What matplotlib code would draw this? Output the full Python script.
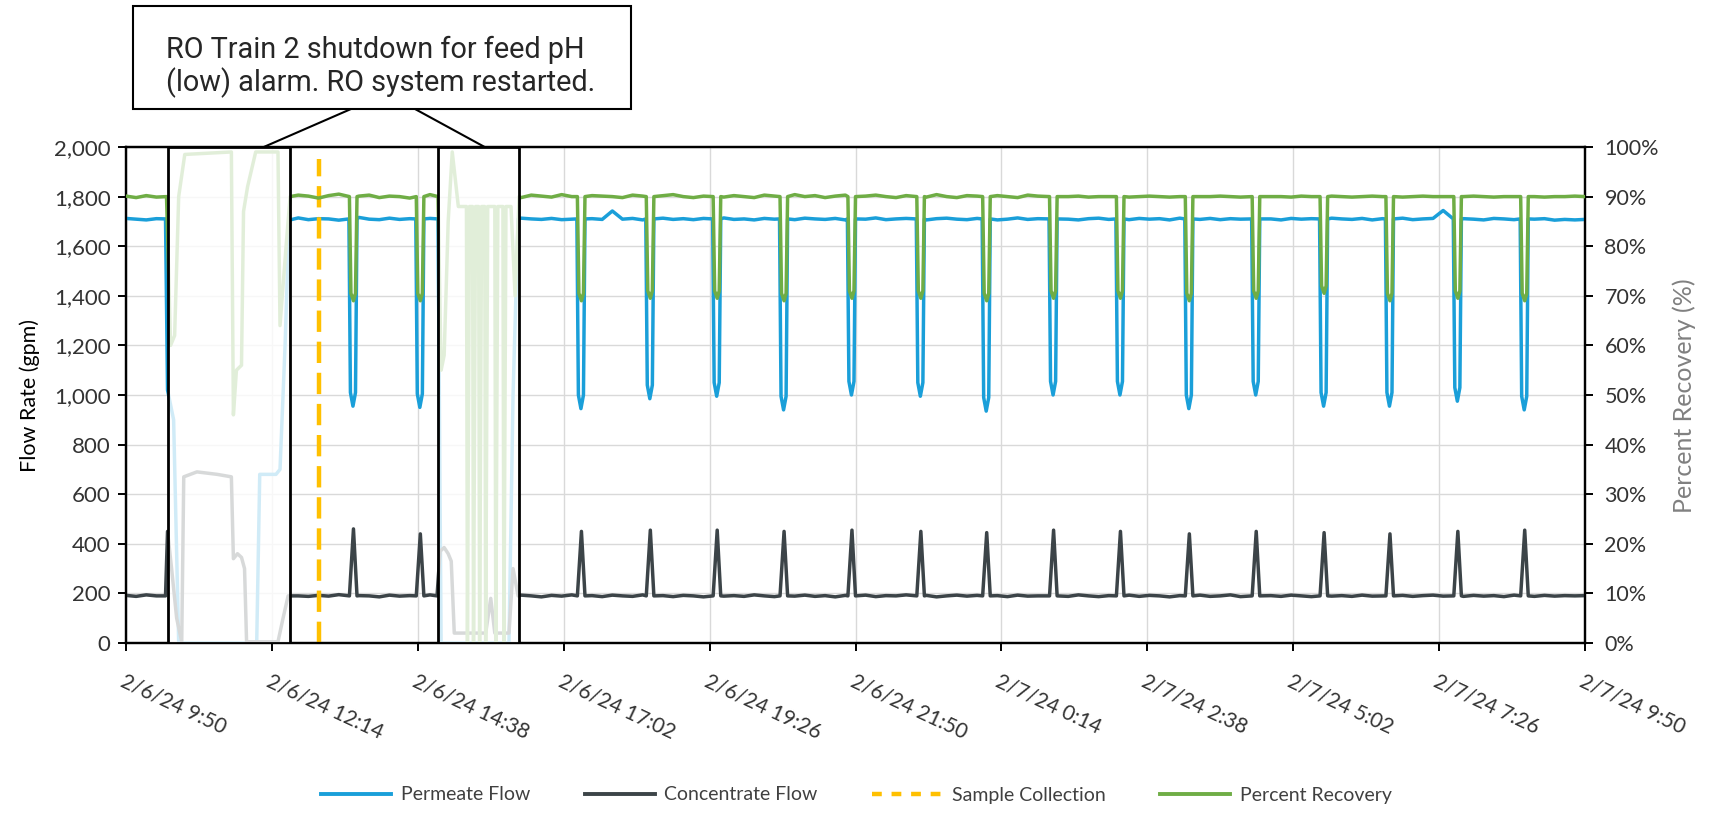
import matplotlib
matplotlib.use("Agg")
import matplotlib.pyplot as plt
from matplotlib.lines import Line2D
from matplotlib.patches import Rectangle

# ---------------- data (x in minutes after 2/6/24 9:50) ----------------
tick_minutes = [0, 144, 288, 432, 576, 720, 864, 1008, 1152, 1296, 1440]
tick_labels = ["2/6/24 9:50", "2/6/24 12:14", "2/6/24 14:38", "2/6/24 17:02",
               "2/6/24 19:26", "2/6/24 21:50", "2/7/24 0:14", "2/7/24 2:38",
               "2/7/24 5:02", "2/7/24 7:26", "2/7/24 9:50"]
flow_ticks = [0, 200, 400, 600, 800, 1000, 1200, 1400, 1600, 1800, 2000]
pct_ticks = [0, 10, 20, 30, 40, 50, 60, 70, 80, 90, 100]

sample_minute = 190                       # sample collection (~13:00)
shutdown_windows = [(41, 162), (308, 388)]

# periodic flush dips
dip_minutes = [224, 290, 449, 517, 583, 649, 716, 784, 849, 915, 981, 1049,
               1115, 1182, 1247, 1314, 1380]
perm_dip_low = [955, 950, 945, 985, 995, 940, 1000, 995, 935, 1000, 1000, 945,
                1000, 955, 955, 975, 940]
conc_dip_peak = [460, 440, 450, 455, 455, 450, 455, 450, 445, 455, 450, 440,
                 450, 445, 440, 450, 455]
rec_dip_low = [69, 69, 69, 69.5, 69.5, 69, 69.5, 69.5, 69, 69.5, 69.5, 69,
               69.5, 70.5, 69, 69.5, 69]

# baseline readings every 10 minutes
base_step = 10
perm_base = [1712, 1709, 1706, 1711, 1714, 1708, 1710, 1712, 1707, 1709, 1713, 1710,
             1708, 1711, 1706, 1712, 1709, 1714, 1707, 1711, 1710, 1705, 1712, 1716,
             1709, 1707, 1713, 1708, 1711, 1706, 1712, 1709, 1715, 1708, 1710, 1707,
             1711, 1709, 1706, 1713, 1710, 1708, 1712, 1707, 1709, 1714, 1711, 1708,
             1742, 1709, 1712, 1706, 1710, 1713, 1708, 1711, 1707, 1712, 1709, 1714,
             1708, 1710, 1706, 1712, 1709, 1711, 1707, 1713, 1710, 1708, 1712, 1706,
             1711, 1709, 1714, 1707, 1710, 1712, 1708, 1706, 1711, 1713, 1709, 1707,
             1712, 1710, 1706, 1709, 1714, 1708, 1711, 1707, 1712, 1709, 1706, 1711,
             1713, 1708, 1710, 1707, 1712, 1709, 1711, 1706, 1713, 1710, 1708, 1712,
             1707, 1711, 1709, 1714, 1708, 1710, 1706, 1712, 1709, 1711, 1707, 1713,
             1710, 1708, 1712, 1706, 1711, 1709, 1713, 1707, 1710, 1712, 1744, 1708,
             1711, 1709, 1706, 1712, 1710, 1707, 1713, 1709, 1711, 1705, 1708, 1706,
             1708]
conc_base = [192, 188, 194, 190, 187, 193, 189, 191, 186, 192, 190, 188,
             193, 189, 191, 187, 194, 190, 188, 192, 189, 195, 187, 191,
             190, 186, 193, 189, 191, 188, 194, 190, 187, 192, 189, 193,
             188, 191, 187, 193, 190, 186, 192, 189, 194, 188, 191, 187,
             193, 190, 188, 194, 189, 191, 187, 192, 190, 186, 193, 189,
             191, 188, 194, 190, 187, 192, 189, 193, 188, 191, 186, 192,
             189, 193, 187, 191, 190, 194, 188, 192, 186, 190, 193, 189,
             192, 188, 191, 187, 193, 189, 190, 186, 192, 188, 194, 190,
             187, 191, 189, 193, 188, 192, 190, 186, 191, 189, 193, 188,
             190, 194, 187, 192, 189, 191, 188, 193, 190, 187, 192, 189,
             191, 188, 193, 189, 190, 186, 192, 188, 191, 193, 189, 190,
             188, 192, 189, 191, 187, 193, 190, 188, 192, 189, 191, 190,
             191]
rec_base = [90.1, 89.8, 90.2, 89.9, 90.0, 90.3, 89.7, 90.1, 89.9, 90.2, 90.0, 89.8,
            90.2, 89.9, 90.4, 90.0, 89.8, 90.3, 90.1, 89.7, 90.2, 90.5, 89.9, 90.1,
            90.3, 89.8, 90.1, 90.0, 89.7, 90.2, 90.4, 89.9, 90.1, 89.8, 90.3, 90.0,
            89.9, 90.2, 90.0, 89.8, 90.3, 90.1, 89.9, 90.4, 90.0, 89.8, 90.2, 90.1,
            90.0, 89.8, 90.3, 90.1, 89.9, 90.2, 90.4, 90.0, 89.8, 90.1, 90.3, 89.9,
            90.2, 90.0, 89.8, 90.3, 90.1, 89.9, 90.4, 90.0, 90.2, 89.8, 90.1, 90.3,
            89.9, 90.1, 90.3, 90.0, 89.8, 90.2, 90.1, 89.9, 90.4, 90.0, 89.8, 90.2,
            90.1, 89.9, 90.2, 90.0, 89.8, 90.3, 90.1, 89.9, 90.2, 90.0, 90.1, 89.9,
            90.0, 90.0, 90.1, 89.9, 90.0, 90.1, 90.0, 89.9, 90.0, 90.1, 90.0, 90.0,
            90.1, 90.0, 89.9, 90.0, 90.1, 90.0, 90.0, 89.9, 90.1, 90.0, 90.0, 90.1,
            90.0, 89.9, 90.0, 90.1, 90.0, 90.0, 89.9, 90.0, 90.1, 90.0, 90.0, 89.9,
            90.0, 90.1, 90.0, 89.9, 90.0, 90.0, 90.1, 90.0, 89.9, 90.0, 90.0, 90.1,
            90.0]

# readings during the two shutdown periods (shown faded)
perm_off1_min = [39, 41, 47, 52, 129, 132, 148, 152, 157, 161]
perm_off1_val = [1710, 1020, 900, 0, 0, 680, 680, 700, 1200, 1705]
perm_off2_min = [308, 311, 378, 382, 387]
perm_off2_val = [1710, 0, 0, 1000, 1710]
conc_off1_min = [39, 41, 45, 50, 55, 57, 70, 90, 104, 106, 110, 114, 117, 119, 150, 155, 160]
conc_off1_val = [190, 450, 300, 100, 5, 670, 690, 680, 670, 340, 360, 345, 300, 5, 5, 100, 190]
conc_off2_min = [307, 310, 314, 318, 321, 324, 355, 360, 364, 378, 382, 387]
conc_off2_val = [190, 370, 385, 360, 330, 40, 40, 180, 40, 40, 300, 190]
rec_off1_min = [40, 44, 48, 52, 58, 104, 106, 109, 114, 116, 120, 128, 150, 152, 158, 162]
rec_off1_val = [90, 60, 62, 90, 98.5, 99, 46, 55, 56, 87, 92, 99, 99, 64, 80, 90]
rec_off2_min = [308, 311, 314, 318, 322, 328, 336, 337, 339, 342, 343, 345, 348, 349,
                351, 354, 355, 357, 364, 365, 367, 372, 373, 375, 380, 384, 388]
rec_off2_val = [90, 55, 58, 85, 99, 88, 88, 0, 88, 88, 0, 88, 88, 0,
                88, 88, 0, 88, 88, 0, 88, 88, 0, 88, 88, 70, 90]

# ---------------- build series ----------------
def build(base, dip_offsets, dip_values, offs):
    ranges = [(min(m), max(m)) for m, _ in offs]
    pts = []
    for i, v in enumerate(base):
        m = i * base_step
        if any(a <= m <= b for a, b in ranges):
            continue
        if any(abs(m - d) <= 5 for d in dip_minutes):
            continue
        pts.append((m, v))
    for d, vals in zip(dip_minutes, dip_values):
        for o, v in zip(dip_offsets, vals):
            pts.append((d + o, v))
    for ms, vs in offs:
        pts.extend(zip(ms, vs))
    pts.sort(key=lambda p: p[0])
    return [p[0] for p in pts], [p[1] for p in pts]

perm_x, perm_y = build(perm_base, [-4, -2.5, 0, 2.5, 4],
                       [[1710, lo + 55, lo, lo + 55, 1710] for lo in perm_dip_low],
                       [(perm_off1_min, perm_off1_val), (perm_off2_min, perm_off2_val)])
conc_x, conc_y = build(conc_base, [-3.5, 0.5, 4],
                       [[190, pk, 190] for pk in conc_dip_peak],
                       [(conc_off1_min, conc_off1_val), (conc_off2_min, conc_off2_val)])
rec_x, rec_y = build(rec_base, [-3.5, -2, 0.5, 2.5, 4],
                     [[90, lo + 1.5, lo, lo + 1.5, 90] for lo in rec_dip_low],
                     [(rec_off1_min, rec_off1_val), (rec_off2_min, rec_off2_val)])

# ---------------- figure ----------------
W, H = 1713, 817
fig = plt.figure(figsize=(W / 100, H / 100), dpi=100)
FONT = ["Lato", "DejaVu Sans"]
TXT = "#333333"

ax = fig.add_axes([126 / W, 1 - 643 / H, (1585 - 126) / W, (643 - 147) / H])
ax2 = ax.twinx()

C_PERM, C_CONC, C_SAMP, C_REC = "#1a9fd9", "#3c4448", "#ffc000", "#6fad45"

ax.plot(perm_x, perm_y, color=C_PERM, lw=2.5, zorder=3, solid_joinstyle="round")
ax.plot(conc_x, conc_y, color=C_CONC, lw=2.5, zorder=3, solid_joinstyle="round")
ax.axvline(sample_minute, ymin=0, ymax=0.975, color=C_SAMP, lw=3.2,
           dashes=(4.8, 2.2), zorder=4)
ax2.plot(rec_x, rec_y, color=C_REC, lw=2.5, zorder=3, solid_joinstyle="round")

for a, b in shutdown_windows:
    ax2.add_patch(Rectangle((a, 0), b - a, 100, facecolor=(1, 1, 1, 0.8),
                            edgecolor="black", lw=2, zorder=6))

ax.set_xlim(0, 1440)
ax.set_ylim(0, 2000)
ax2.set_ylim(0, 100)
ax.set_xticks(tick_minutes)
ax.set_xticklabels(tick_labels, rotation=-25, ha="left", va="top",
                   rotation_mode="anchor", fontsize=15, color=TXT, family=FONT)
ax.set_yticks(flow_ticks)
ax.set_yticklabels([f"{v:,}" for v in flow_ticks], fontsize=16, color=TXT, family=FONT)
ax2.set_yticks(pct_ticks)
ax2.set_yticklabels([f"{v}%" for v in pct_ticks], fontsize=15.5, color=TXT, family=FONT)

ax.grid(True, color="#d9d9d9", lw=1)
ax.set_axisbelow(True)
for s in ax.spines.values():
    s.set_color("black"); s.set_linewidth(1.6)
for s in ax2.spines.values():
    s.set_color("black"); s.set_linewidth(1.6)
ax.tick_params(axis="both", direction="out", length=6, width=1.4, color="black")
ax.tick_params(axis="x", pad=14)
ax.tick_params(axis="y", pad=5)
ax2.tick_params(axis="y", direction="out", length=6, width=1.4, color="black", pad=8)

fig.text(30 / W, 1 - 396 / H, "Flow Rate (gpm)", rotation=90, ha="center", va="center",
         fontsize=15.5, color="black", family=FONT)
fig.text(1684 / W, 1 - 396 / H, "Percent Recovery (%)", rotation=90, ha="center",
         va="center", fontsize=18, color="#808080", family=FONT)

# annotation box
fig.add_artist(Rectangle((133 / W, 1 - 109 / H), (631 - 133) / W, (109 - 6) / H,
                         transform=fig.transFigure, facecolor="white",
                         edgecolor="black", lw=1.5))
fig.text(166 / W, 1 - 67 / H, "RO Train 2 shutdown for feed pH\n(low) alarm. RO system restarted.",
         ha="left", va="center", fontsize=20.8, color="#262626", linespacing=1.15,
         family=["Roboto", "DejaVu Sans"])
ax.annotate("", xy=(136, 2000), xycoords="data", xytext=(351 / W, 1 - 109 / H),
            textcoords="figure fraction",
            arrowprops=dict(arrowstyle="-", lw=1.5, color="black", shrinkA=0, shrinkB=0))
ax.annotate("", xy=(354, 2000), xycoords="data", xytext=(415 / W, 1 - 109 / H),
            textcoords="figure fraction",
            arrowprops=dict(arrowstyle="-", lw=1.5, color="black", shrinkA=0, shrinkB=0))

handles = [Line2D([], [], color=C_PERM, lw=2.8),
           Line2D([], [], color=C_CONC, lw=2.8),
           Line2D([], [], color=C_SAMP, lw=3.2, dashes=(2.2, 2.2)),
           Line2D([], [], color=C_REC, lw=2.8)]
fig.legend(handles, ["Permeate Flow", "Concentrate Flow", "Sample Collection", "Percent Recovery"],
           loc="center", bbox_to_anchor=(0.5, 1 - 795 / H), ncol=4, frameon=False,
           prop={"family": FONT, "size": 14}, labelcolor="#404040",
           handlelength=3.6, columnspacing=2.8, handletextpad=0.5)

fig.savefig("out.png", dpi=100, facecolor="white")
